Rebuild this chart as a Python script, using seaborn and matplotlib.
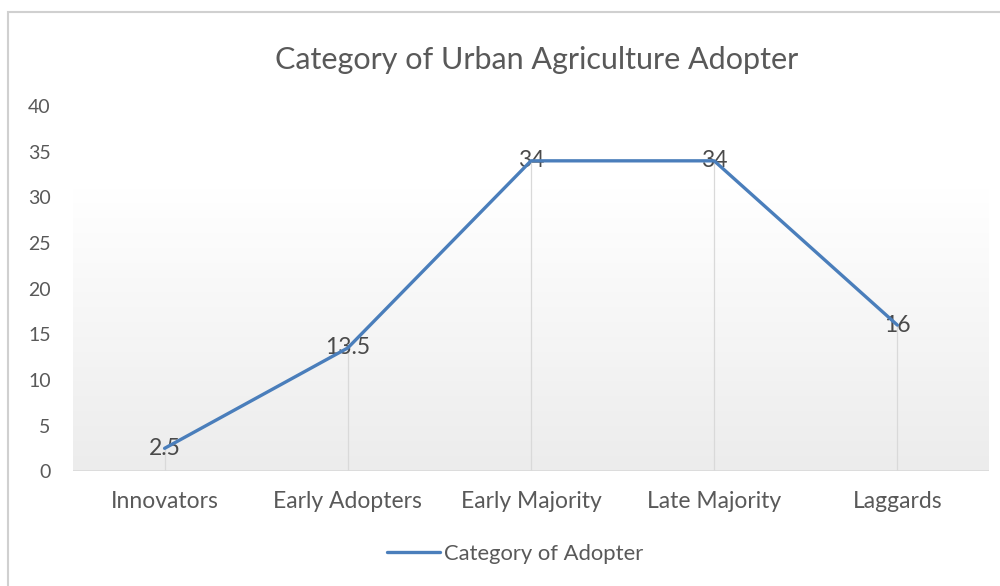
import numpy as np
import pandas as pd
import matplotlib
matplotlib.use("Agg")
import matplotlib.pyplot as plt
import seaborn as sns
from matplotlib.patches import Rectangle
from matplotlib.colors import LinearSegmentedColormap

categories = ["Innovators", "Early Adopters", "Early Majority", "Late Majority", "Laggards"]
values = [2.5, 13.5, 34, 34, 16]
value_labels = ["2.5", "13.5", "34", "34", "16"]
series_name = "Category of Adopter"
title = "Category of Urban Agriculture Adopter"
y_ticks = [0, 5, 10, 15, 20, 25, 30, 35, 40]

sns.set_theme(style="white")
plt.rcParams['font.family'] = ['Lato', 'DejaVu Sans']

df = pd.DataFrame({"Category": categories, "Value": values})

fig = plt.figure(figsize=(10, 5.86), dpi=100)
ax = fig.add_axes([0.073, 0.196, 0.916, 0.623])

# chart border (top/left visible)
fig.patches.append(Rectangle((0.008, -0.1), 1.2, 1.08, transform=fig.transFigure,
                             fill=False, edgecolor="#d0d0d0", linewidth=1.5, zorder=0))

# gradient background in plot area
grad = np.linspace(0, 1, 256).reshape(-1, 1)
cmap = LinearSegmentedColormap.from_list("g", ["#ececec", "#ffffff"])
ax.imshow(grad, extent=(-0.5, 4.5, 0, 31), origin="lower", cmap=cmap, aspect="auto", zorder=0)

sns.lineplot(data=df, x="Category", y="Value", ax=ax, color="#4A7EBB", linewidth=2.4,
             label=series_name, sort=False, zorder=3)

# drop lines
ax.vlines(range(len(categories)), 0, values, colors="#d9d9d9", linewidth=0.9, zorder=2)
ax.axhline(0, color="#d9d9d9", linewidth=1.2, zorder=2)

for i, (v, lab) in enumerate(zip(values, value_labels)):
    ax.text(i, v, lab, ha="center", va="center", fontsize=16.5, color="#4a4a4a", zorder=2.5)

ax.set_xlim(-0.5, 4.5)
ax.set_ylim(0, 40)
ax.set_yticks(y_ticks)
ax.set_yticklabels([str(t) for t in y_ticks])
ax.tick_params(axis="y", length=0, pad=16, labelsize=14, labelcolor="#595959")
ax.tick_params(axis="x", length=0, pad=14, labelsize=16.5, labelcolor="#595959")
ax.set_xlabel("")
ax.set_ylabel("")
for s in ax.spines.values():
    s.set_visible(False)
ax.grid(False)
ax.set_facecolor("white")

ax.get_legend().remove()
handles, labels = ax.get_legend_handles_labels()
fig.legend(handles, labels, loc="center", bbox_to_anchor=(0.515, 0.055), frameon=False,
           fontsize=15.8, labelcolor="#595959", handlelength=2.4, handletextpad=0.2)

fig.text(0.537, 0.898, title, ha="center", va="center", fontsize=22, color="#595959")

fig.savefig("out.png", dpi=100)
